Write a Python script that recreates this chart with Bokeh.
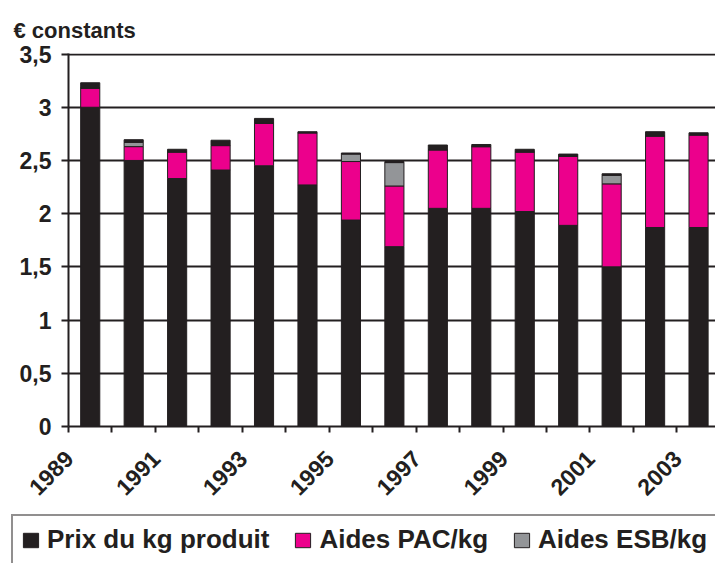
import math
from bokeh.plotting import figure
from bokeh.layouts import column
from bokeh.models import ColumnDataSource, Range1d, FixedTicker, Legend, LegendItem
from bokeh.embed import file_html
from bokeh.resources import INLINE

# ---- data ----
years = list(range(1989, 2004))
prix = [3.00, 2.50, 2.33, 2.41, 2.45, 2.27, 1.94, 1.69, 2.05, 2.05, 2.02, 1.89, 1.50, 1.87, 1.87]
aides_pac = [0.18, 0.13, 0.25, 0.23, 0.40, 0.49, 0.55, 0.57, 0.55, 0.58, 0.56, 0.65, 0.78, 0.86, 0.87]
aides_esb = [0.00, 0.04, 0.00, 0.00, 0.00, 0.00, 0.07, 0.22, 0.00, 0.00, 0.00, 0.00, 0.08, 0.00, 0.00]
sommet = [0.05, 0.025, 0.025, 0.05, 0.045, 0.01, 0.01, 0.01, 0.045, 0.02, 0.025, 0.02, 0.015, 0.04, 0.02]
series_labels = ["Prix du kg produit", "Aides PAC/kg", "Aides ESB/kg"]
y_ticks = [0, 0.5, 1, 1.5, 2, 2.5, 3, 3.5]
y_tick_labels = ["0", "0,5", "1", "1,5", "2", "2,5", "3", "3,5"]
label_years = [1989, 1991, 1993, 1995, 1997, 1999, 2001, 2003]

DARK = "#231f20"
MAGENTA = "#ec008c"
GREY = "#939598"
FONT = "Liberation Sans"
COLORS = [DARK, MAGENTA, GREY, DARK]

idx = list(range(len(years)))
src = ColumnDataSource(dict(x=idx, prix=prix, pac=aides_pac, esb=aides_esb, cap=sommet))

p = figure(width=715, height=513, output_backend="svg", toolbar_location=None,
           x_range=Range1d(-0.5, 14.39), y_range=Range1d(0, 3.505),
           min_border_left=68, min_border_right=0, min_border_top=53, min_border_bottom=87)
p.frame_align = False
p.outline_line_color = None
p.background_fill_color = "white"
p.border_fill_color = "white"

rs = p.vbar_stack(["prix", "pac", "esb", "cap"], x="x", width=0.44, source=src,
                  color=COLORS, line_color=DARK, line_width=1)

# y axis
yt = FixedTicker(ticks=y_ticks)
p.yaxis.ticker = yt
p.yaxis.major_label_overrides = {t: l for t, l in zip(y_ticks, y_tick_labels)}
p.yaxis.major_label_text_font = FONT
p.yaxis.major_label_text_font_size = "23px"
p.yaxis.major_label_text_font_style = "bold"
p.yaxis.major_label_text_color = DARK
p.yaxis.axis_line_color = DARK
p.yaxis.axis_line_width = 2
p.yaxis.major_tick_out = 7
p.yaxis.major_tick_in = 0
p.yaxis.major_tick_line_color = DARK
p.yaxis.major_tick_line_width = 2
p.yaxis.minor_tick_line_color = None
p.yaxis.major_label_standoff = 10
p.ygrid.ticker = yt
p.ygrid.grid_line_color = DARK
p.ygrid.grid_line_width = 2
p.xgrid.visible = False

# x axis
label_pos = [(y - years[0]) - 0.49 for y in label_years]
p.xaxis.ticker = FixedTicker(ticks=label_pos, minor_ticks=[i - 0.5 for i in range(len(years) + 1)])
p.xaxis.major_label_overrides = {pos: str(y) for pos, y in zip(label_pos, label_years)}
p.xaxis.major_label_orientation = math.pi / 4
p.xaxis.major_label_text_font = FONT
p.xaxis.major_label_text_font_size = "23px"
p.xaxis.major_label_text_font_style = "bold"
p.xaxis.major_label_text_color = DARK
p.xaxis.major_label_standoff = 22
p.xaxis.major_tick_out = 0
p.xaxis.major_tick_in = 0
p.xaxis.minor_tick_out = 6
p.xaxis.minor_tick_in = 0
p.xaxis.minor_tick_line_color = DARK
p.xaxis.minor_tick_line_width = 2
p.xaxis.axis_line_color = DARK
p.xaxis.axis_line_width = 2

# title
p.title.text = "€ constants"
p.title.align = "left"
p.title.offset = -55
p.title.standoff = 22
p.title.text_font = FONT
p.title.text_font_size = "22px"
p.title.text_font_style = "bold"
p.title.text_color = DARK

# legend strip: its box runs past the right and bottom edges, as in the reference
lf = figure(width=715, height=50, output_backend="svg", toolbar_location=None,
            x_range=Range1d(0, 1), y_range=Range1d(0, 1),
            x_axis_location=None, y_axis_location=None, min_border=0)
lf.frame_align = False
lf.outline_line_color = None
lf.grid.visible = False
lf.background_fill_color = "white"
lf.border_fill_color = "white"
# swatch renderers (their single bar sits outside the strip's range, only the legend shows them)
swatches = [lf.vbar(x=[5], top=[0.5], width=0.4, color=COLORS[i], line_color=DARK, line_width=1)
            for i in range(3)]
legend = Legend(items=[LegendItem(label=series_labels[i], renderers=[swatches[i]]) for i in range(3)],
                orientation="horizontal", location=(11, -2),
                label_text_font=FONT, label_text_font_size="26px", label_text_font_style="bold",
                label_text_color=DARK, glyph_width=19, glyph_height=18, label_standoff=7,
                spacing=24, padding=8, margin=0,
                border_line_color=DARK, border_line_width=2, background_fill_alpha=1)
lf.add_layout(legend)

open("out.html", "w").write(file_html(column(p, lf, spacing=0), INLINE))
